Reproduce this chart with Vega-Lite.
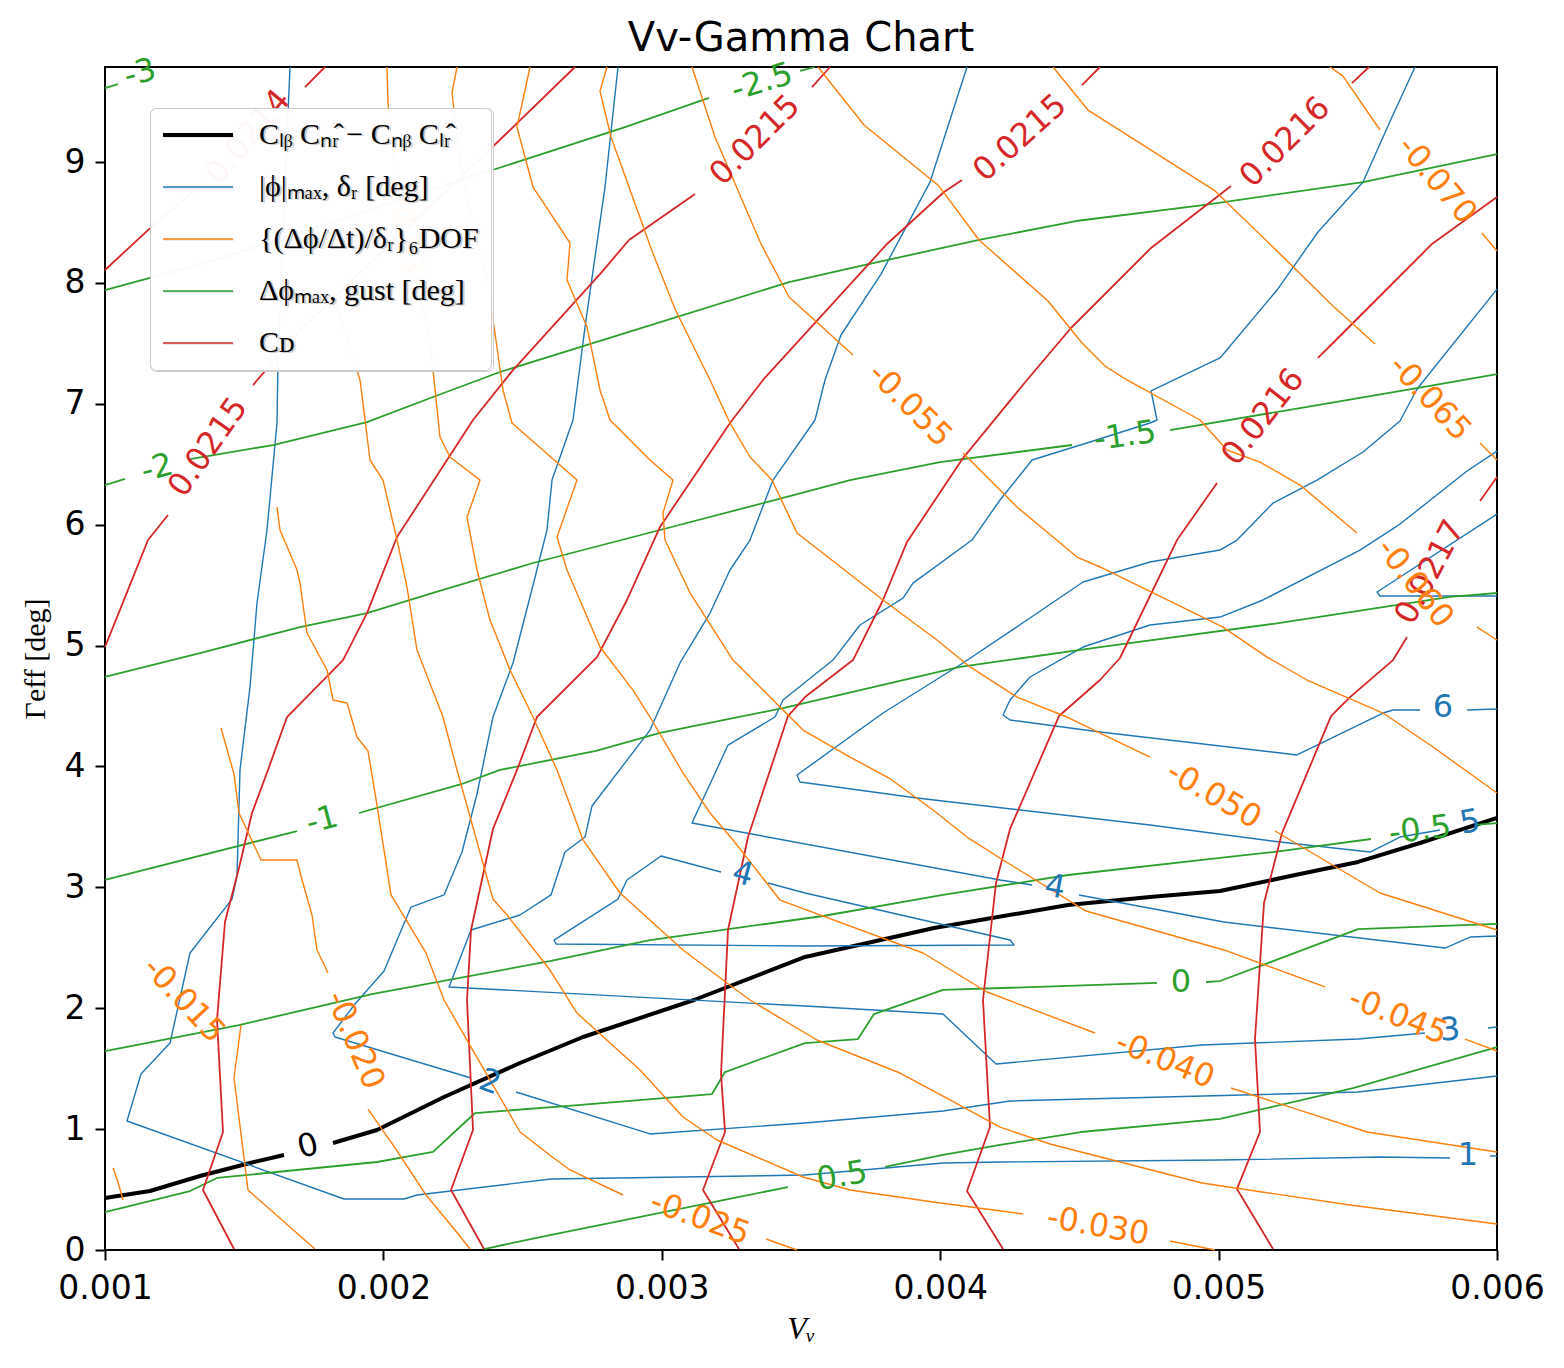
{
  "$schema": "https://vega.github.io/schema/vega-lite/v6.json",
  "width": 1392,
  "height": 1183,
  "autosize": {"type": "none"},
  "padding": {"left": 105, "top": 67, "right": 67, "bottom": 118},
  "background": "white",
  "title": {
    "text": "Vv-Gamma Chart",
    "font": "DejaVu Sans",
    "fontSize": 40,
    "fontWeight": "normal",
    "color": "black",
    "anchor": "middle",
    "offset": -6
  },
  "datasets": {
    "lines": [
      {"series":"det","seg":"k1","i":0,"Vv":0.0010000,"Gamma":0.430},
      {"series":"det","seg":"k1","i":1,"Vv":0.0011616,"Gamma":0.488},
      {"series":"det","seg":"k1","i":2,"Vv":0.0013412,"Gamma":0.612},
      {"series":"det","seg":"k1","i":3,"Vv":0.0015208,"Gamma":0.720},
      {"series":"det","seg":"k1","i":4,"Vv":0.0016430,"Gamma":0.786},
      {"series":"det","seg":"k2","i":0,"Vv":0.0018190,"Gamma":0.885},
      {"series":"det","seg":"k2","i":1,"Vv":0.0019770,"Gamma":0.993},
      {"series":"det","seg":"k2","i":2,"Vv":0.0022177,"Gamma":1.266},
      {"series":"det","seg":"k2","i":3,"Vv":0.0024907,"Gamma":1.547},
      {"series":"det","seg":"k2","i":4,"Vv":0.0027170,"Gamma":1.762},
      {"series":"det","seg":"k2","i":5,"Vv":0.0031157,"Gamma":2.068},
      {"series":"det","seg":"k2","i":6,"Vv":0.0035144,"Gamma":2.424},
      {"series":"det","seg":"k2","i":7,"Vv":0.0039778,"Gamma":2.664},
      {"series":"det","seg":"k2","i":8,"Vv":0.0044591,"Gamma":2.854},
      {"series":"det","seg":"k2","i":9,"Vv":0.0047536,"Gamma":2.920},
      {"series":"det","seg":"k2","i":10,"Vv":0.0050051,"Gamma":2.970},
      {"series":"det","seg":"k2","i":11,"Vv":0.0052924,"Gamma":3.110},
      {"series":"det","seg":"k2","i":12,"Vv":0.0055008,"Gamma":3.210},
      {"series":"det","seg":"k2","i":13,"Vv":0.0057235,"Gamma":3.367},
      {"series":"det","seg":"k2","i":14,"Vv":0.0060000,"Gamma":3.574},

      {"series":"phi","seg":"p1a","i":0,"Vv":0.0059749,"Gamma":0.778},
      {"series":"phi","seg":"p1a","i":1,"Vv":0.0060000,"Gamma":0.778},
      {"series":"phi","seg":"p1b","i":0,"Vv":0.0058313,"Gamma":0.761},
      {"series":"phi","seg":"p1b","i":1,"Vv":0.0055798,"Gamma":0.769},
      {"series":"phi","seg":"p1b","i":2,"Vv":0.0050051,"Gamma":0.744},
      {"series":"phi","seg":"p1b","i":3,"Vv":0.0042148,"Gamma":0.728},
      {"series":"phi","seg":"p1b","i":4,"Vv":0.0040101,"Gamma":0.720},
      {"series":"phi","seg":"p1b","i":5,"Vv":0.0035144,"Gamma":0.620},
      {"series":"phi","seg":"p1b","i":6,"Vv":0.0026020,"Gamma":0.587},
      {"series":"phi","seg":"p1b","i":7,"Vv":0.0021207,"Gamma":0.455},
      {"series":"phi","seg":"p1b","i":8,"Vv":0.0020740,"Gamma":0.422},
      {"series":"phi","seg":"p1b","i":9,"Vv":0.0018585,"Gamma":0.422},
      {"series":"phi","seg":"p1b","i":10,"Vv":0.0010790,"Gamma":1.067},
      {"series":"phi","seg":"p1b","i":11,"Vv":0.0011293,"Gamma":1.456},
      {"series":"phi","seg":"p1b","i":12,"Vv":0.0012335,"Gamma":1.712},
      {"series":"phi","seg":"p1b","i":13,"Vv":0.0013053,"Gamma":2.457},
      {"series":"phi","seg":"p1b","i":14,"Vv":0.0014562,"Gamma":2.903},
      {"series":"phi","seg":"p1b","i":15,"Vv":0.0014741,"Gamma":3.094},
      {"series":"phi","seg":"p1b","i":16,"Vv":0.0014849,"Gamma":3.971},
      {"series":"phi","seg":"p1b","i":17,"Vv":0.0015208,"Gamma":4.657},
      {"series":"phi","seg":"p1b","i":18,"Vv":0.0015460,"Gamma":5.352},
      {"series":"phi","seg":"p1b","i":19,"Vv":0.0015819,"Gamma":5.956},
      {"series":"phi","seg":"p1b","i":20,"Vv":0.0016178,"Gamma":6.841},
      {"series":"phi","seg":"p1b","i":21,"Vv":0.0016214,"Gamma":7.362},
      {"series":"phi","seg":"p1b","i":22,"Vv":0.0016466,"Gamma":8.826},
      {"series":"phi","seg":"p1b","i":23,"Vv":0.0016645,"Gamma":9.786},

      {"series":"phi","seg":"p2a","i":0,"Vv":0.0060000,"Gamma":1.439},
      {"series":"phi","seg":"p2a","i":1,"Vv":0.0055008,"Gamma":1.307},
      {"series":"phi","seg":"p2a","i":2,"Vv":0.0042508,"Gamma":1.233},
      {"series":"phi","seg":"p2a","i":3,"Vv":0.0040101,"Gamma":1.150},
      {"series":"phi","seg":"p2a","i":4,"Vv":0.0035144,"Gamma":1.051},
      {"series":"phi","seg":"p2a","i":5,"Vv":0.0029576,"Gamma":0.960},
      {"series":"phi","seg":"p2a","i":6,"Vv":0.0024763,"Gamma":1.307},
      {"series":"phi","seg":"p2b","i":0,"Vv":0.0023147,"Gamma":1.423},
      {"series":"phi","seg":"p2b","i":1,"Vv":0.0018262,"Gamma":1.762},
      {"series":"phi","seg":"p2b","i":2,"Vv":0.0018190,"Gamma":1.795},
      {"series":"phi","seg":"p2b","i":3,"Vv":0.0018980,"Gamma":2.035},
      {"series":"phi","seg":"p2b","i":4,"Vv":0.0020022,"Gamma":2.308},
      {"series":"phi","seg":"p2b","i":5,"Vv":0.0020992,"Gamma":2.837},
      {"series":"phi","seg":"p2b","i":6,"Vv":0.0022177,"Gamma":2.937},
      {"series":"phi","seg":"p2b","i":7,"Vv":0.0022824,"Gamma":3.292},
      {"series":"phi","seg":"p2b","i":8,"Vv":0.0023362,"Gamma":3.772},
      {"series":"phi","seg":"p2b","i":9,"Vv":0.0023937,"Gamma":4.409},
      {"series":"phi","seg":"p2b","i":10,"Vv":0.0024655,"Gamma":4.856},
      {"series":"phi","seg":"p2b","i":11,"Vv":0.0025266,"Gamma":5.402},
      {"series":"phi","seg":"p2b","i":12,"Vv":0.0025877,"Gamma":5.956},
      {"series":"phi","seg":"p2b","i":13,"Vv":0.0026056,"Gamma":6.369},
      {"series":"phi","seg":"p2b","i":14,"Vv":0.0026811,"Gamma":6.866},
      {"series":"phi","seg":"p2b","i":15,"Vv":0.0027242,"Gamma":7.635},
      {"series":"phi","seg":"p2b","i":16,"Vv":0.0027960,"Gamma":8.793},
      {"series":"phi","seg":"p2b","i":17,"Vv":0.0028427,"Gamma":9.786},

      {"series":"phi","seg":"p3a","i":0,"Vv":0.0059677,"Gamma":1.836},
      {"series":"phi","seg":"p3a","i":1,"Vv":0.0060000,"Gamma":1.845},
      {"series":"phi","seg":"p3b","i":0,"Vv":0.0057414,"Gamma":1.795},
      {"series":"phi","seg":"p3b","i":1,"Vv":0.0055008,"Gamma":1.745},
      {"series":"phi","seg":"p3b","i":2,"Vv":0.0049404,"Gamma":1.696},
      {"series":"phi","seg":"p3b","i":3,"Vv":0.0042005,"Gamma":1.539},
      {"series":"phi","seg":"p3b","i":4,"Vv":0.0040101,"Gamma":1.952},
      {"series":"phi","seg":"p3b","i":5,"Vv":0.0035144,"Gamma":2.018},
      {"series":"phi","seg":"p3b","i":6,"Vv":0.0022357,"Gamma":2.176},
      {"series":"phi","seg":"p3b","i":7,"Vv":0.0023147,"Gamma":2.647},
      {"series":"phi","seg":"p3b","i":8,"Vv":0.0024907,"Gamma":2.771},
      {"series":"phi","seg":"p3b","i":9,"Vv":0.0026020,"Gamma":2.937},
      {"series":"phi","seg":"p3b","i":10,"Vv":0.0026523,"Gamma":3.292},
      {"series":"phi","seg":"p3b","i":11,"Vv":0.0027242,"Gamma":3.416},
      {"series":"phi","seg":"p3b","i":12,"Vv":0.0027493,"Gamma":3.673},
      {"series":"phi","seg":"p3b","i":13,"Vv":0.0029576,"Gamma":4.301},
      {"series":"phi","seg":"p3b","i":14,"Vv":0.0030654,"Gamma":4.856},
      {"series":"phi","seg":"p3b","i":15,"Vv":0.0031732,"Gamma":5.269},
      {"series":"phi","seg":"p3b","i":16,"Vv":0.0032450,"Gamma":5.625},
      {"series":"phi","seg":"p3b","i":17,"Vv":0.0033168,"Gamma":5.873},
      {"series":"phi","seg":"p3b","i":18,"Vv":0.0033995,"Gamma":6.369},
      {"series":"phi","seg":"p3b","i":19,"Vv":0.0035503,"Gamma":6.866},
      {"series":"phi","seg":"p3b","i":20,"Vv":0.0035862,"Gamma":7.197},
      {"series":"phi","seg":"p3b","i":21,"Vv":0.0036437,"Gamma":7.569},
      {"series":"phi","seg":"p3b","i":22,"Vv":0.0037874,"Gamma":8.073},
      {"series":"phi","seg":"p3b","i":23,"Vv":0.0039634,"Gamma":8.834},
      {"series":"phi","seg":"p3b","i":24,"Vv":0.0040963,"Gamma":9.786},

      {"series":"phi","seg":"p4a","i":0,"Vv":0.0060000,"Gamma":2.597},
      {"series":"phi","seg":"p4a","i":1,"Vv":0.0059031,"Gamma":2.589},
      {"series":"phi","seg":"p4a","i":2,"Vv":0.0058133,"Gamma":2.498},
      {"series":"phi","seg":"p4a","i":3,"Vv":0.0050194,"Gamma":2.713},
      {"series":"phi","seg":"p4a","i":4,"Vv":0.0044986,"Gamma":2.937},
      {"series":"phi","seg":"p4b","i":0,"Vv":0.0043298,"Gamma":3.019},
      {"series":"phi","seg":"p4b","i":1,"Vv":0.0042148,"Gamma":3.061},
      {"series":"phi","seg":"p4b","i":2,"Vv":0.0031085,"Gamma":3.532},
      {"series":"phi","seg":"p4b","i":3,"Vv":0.0032378,"Gamma":4.177},
      {"series":"phi","seg":"p4b","i":4,"Vv":0.0034066,"Gamma":4.409},
      {"series":"phi","seg":"p4b","i":5,"Vv":0.0034354,"Gamma":4.550},
      {"series":"phi","seg":"p4b","i":6,"Vv":0.0036150,"Gamma":4.880},
      {"series":"phi","seg":"p4b","i":7,"Vv":0.0037120,"Gamma":5.170},
      {"series":"phi","seg":"p4b","i":8,"Vv":0.0038664,"Gamma":5.393},
      {"series":"phi","seg":"p4b","i":9,"Vv":0.0039023,"Gamma":5.517},
      {"series":"phi","seg":"p4b","i":10,"Vv":0.0041143,"Gamma":5.873},
      {"series":"phi","seg":"p4b","i":11,"Vv":0.0042148,"Gamma":6.204},
      {"series":"phi","seg":"p4b","i":12,"Vv":0.0043298,"Gamma":6.535},
      {"series":"phi","seg":"p4b","i":13,"Vv":0.0045381,"Gamma":6.684},
      {"series":"phi","seg":"p4b","i":14,"Vv":0.0047536,"Gamma":6.841},
      {"series":"phi","seg":"p4b","i":15,"Vv":0.0047788,"Gamma":6.866},
      {"series":"phi","seg":"p4b","i":16,"Vv":0.0047573,"Gamma":7.106},
      {"series":"phi","seg":"p4b","i":17,"Vv":0.0050051,"Gamma":7.379},
      {"series":"phi","seg":"p4b","i":18,"Vv":0.0052098,"Gamma":7.941},
      {"series":"phi","seg":"p4b","i":19,"Vv":0.0053571,"Gamma":8.421},
      {"series":"phi","seg":"p4b","i":20,"Vv":0.0055187,"Gamma":8.834},
      {"series":"phi","seg":"p4b","i":21,"Vv":0.0056229,"Gamma":9.372},
      {"series":"phi","seg":"p4b","i":22,"Vv":0.0057055,"Gamma":9.786},
      {"series":"phi","seg":"p4c","i":0,"Vv":0.0032127,"Gamma":3.127},
      {"series":"phi","seg":"p4c","i":1,"Vv":0.0029972,"Gamma":3.259},
      {"series":"phi","seg":"p4c","i":2,"Vv":0.0028750,"Gamma":3.061},
      {"series":"phi","seg":"p4c","i":3,"Vv":0.0028427,"Gamma":2.903},
      {"series":"phi","seg":"p4c","i":4,"Vv":0.0026128,"Gamma":2.564},
      {"series":"phi","seg":"p4c","i":5,"Vv":0.0026200,"Gamma":2.531},
      {"series":"phi","seg":"p4c","i":6,"Vv":0.0035144,"Gamma":2.515},
      {"series":"phi","seg":"p4c","i":7,"Vv":0.0042651,"Gamma":2.523},
      {"series":"phi","seg":"p4c","i":8,"Vv":0.0042508,"Gamma":2.564},
      {"series":"phi","seg":"p4c","i":9,"Vv":0.0035144,"Gamma":2.953},
      {"series":"phi","seg":"p4c","i":10,"Vv":0.0033815,"Gamma":3.036},

      {"series":"phi","seg":"p5","i":0,"Vv":0.0057953,"Gamma":3.474},
      {"series":"phi","seg":"p5","i":1,"Vv":0.0056516,"Gamma":3.416},
      {"series":"phi","seg":"p5","i":2,"Vv":0.0055439,"Gamma":3.292},
      {"series":"phi","seg":"p5","i":3,"Vv":0.0052206,"Gamma":3.375},
      {"series":"phi","seg":"p5","i":4,"Vv":0.0047536,"Gamma":3.516},
      {"series":"phi","seg":"p5","i":5,"Vv":0.0039167,"Gamma":3.739},
      {"series":"phi","seg":"p5","i":6,"Vv":0.0034964,"Gamma":3.871},
      {"series":"phi","seg":"p5","i":7,"Vv":0.0034857,"Gamma":3.929},
      {"series":"phi","seg":"p5","i":8,"Vv":0.0037946,"Gamma":4.442},
      {"series":"phi","seg":"p5","i":9,"Vv":0.0040819,"Gamma":4.856},
      {"series":"phi","seg":"p5","i":10,"Vv":0.0043226,"Gamma":5.228},
      {"series":"phi","seg":"p5","i":11,"Vv":0.0045130,"Gamma":5.526},
      {"series":"phi","seg":"p5","i":12,"Vv":0.0047536,"Gamma":5.691},
      {"series":"phi","seg":"p5","i":13,"Vv":0.0050051,"Gamma":5.790},
      {"series":"phi","seg":"p5","i":14,"Vv":0.0050661,"Gamma":5.873},
      {"series":"phi","seg":"p5","i":15,"Vv":0.0051955,"Gamma":6.179},
      {"series":"phi","seg":"p5","i":16,"Vv":0.0053535,"Gamma":6.369},
      {"series":"phi","seg":"p5","i":17,"Vv":0.0055187,"Gamma":6.601},
      {"series":"phi","seg":"p5","i":18,"Vv":0.0056516,"Gamma":6.858},
      {"series":"phi","seg":"p5","i":19,"Vv":0.0057127,"Gamma":7.122},
      {"series":"phi","seg":"p5","i":20,"Vv":0.0060000,"Gamma":7.949},

      {"series":"phi","seg":"p6a","i":0,"Vv":0.0058924,"Gamma":4.467},
      {"series":"phi","seg":"p6a","i":1,"Vv":0.0060000,"Gamma":4.475},
      {"series":"phi","seg":"p6b","i":0,"Vv":0.0057235,"Gamma":4.467},
      {"series":"phi","seg":"p6b","i":1,"Vv":0.0056265,"Gamma":4.467},
      {"series":"phi","seg":"p6b","i":2,"Vv":0.0055906,"Gamma":4.442},
      {"series":"phi","seg":"p6b","i":3,"Vv":0.0052816,"Gamma":4.095},
      {"series":"phi","seg":"p6b","i":4,"Vv":0.0045740,"Gamma":4.285},
      {"series":"phi","seg":"p6b","i":5,"Vv":0.0042508,"Gamma":4.384},
      {"series":"phi","seg":"p6b","i":6,"Vv":0.0042256,"Gamma":4.426},
      {"series":"phi","seg":"p6b","i":7,"Vv":0.0042508,"Gamma":4.550},
      {"series":"phi","seg":"p6b","i":8,"Vv":0.0043226,"Gamma":4.740},
      {"series":"phi","seg":"p6b","i":9,"Vv":0.0045130,"Gamma":4.988},
      {"series":"phi","seg":"p6b","i":10,"Vv":0.0047536,"Gamma":5.170},
      {"series":"phi","seg":"p6b","i":11,"Vv":0.0050051,"Gamma":5.236},
      {"series":"phi","seg":"p6b","i":12,"Vv":0.0051595,"Gamma":5.377},
      {"series":"phi","seg":"p6b","i":13,"Vv":0.0055079,"Gamma":5.790},
      {"series":"phi","seg":"p6b","i":14,"Vv":0.0056516,"Gamma":6.005},
      {"series":"phi","seg":"p6b","i":15,"Vv":0.0058924,"Gamma":6.444},
      {"series":"phi","seg":"p6b","i":16,"Vv":0.0060000,"Gamma":6.609},
      {"series":"phi","seg":"p7","i":0,"Vv":0.0060000,"Gamma":6.088},
      {"series":"phi","seg":"p7","i":1,"Vv":0.0055690,"Gamma":5.443},
      {"series":"phi","seg":"p7","i":2,"Vv":0.0055798,"Gamma":5.410},
      {"series":"phi","seg":"p7","i":3,"Vv":0.0060000,"Gamma":5.410},

      {"series":"gust","seg":"g1a","i":0,"Vv":0.0023614,"Gamma":0.008},
      {"series":"gust","seg":"g1a","i":1,"Vv":0.0025984,"Gamma":0.124},
      {"series":"gust","seg":"g1a","i":2,"Vv":0.0034533,"Gamma":0.521},
      {"series":"gust","seg":"g1b","i":0,"Vv":0.0038018,"Gamma":0.687},
      {"series":"gust","seg":"g1b","i":1,"Vv":0.0040101,"Gamma":0.786},
      {"series":"gust","seg":"g1b","i":2,"Vv":0.0042148,"Gamma":0.869},
      {"series":"gust","seg":"g1b","i":3,"Vv":0.0045058,"Gamma":0.976},
      {"series":"gust","seg":"g1b","i":4,"Vv":0.0050051,"Gamma":1.084},
      {"series":"gust","seg":"g1b","i":5,"Vv":0.0054828,"Gamma":1.340},
      {"series":"gust","seg":"g1b","i":6,"Vv":0.0060000,"Gamma":1.679},
      {"series":"gust","seg":"g2a","i":0,"Vv":0.0010000,"Gamma":0.314},
      {"series":"gust","seg":"g2a","i":1,"Vv":0.0013053,"Gamma":0.488},
      {"series":"gust","seg":"g2a","i":2,"Vv":0.0014023,"Gamma":0.596},
      {"series":"gust","seg":"g2a","i":3,"Vv":0.0019770,"Gamma":0.728},
      {"series":"gust","seg":"g2a","i":4,"Vv":0.0021782,"Gamma":0.811},
      {"series":"gust","seg":"g2a","i":5,"Vv":0.0023291,"Gamma":1.133},
      {"series":"gust","seg":"g2a","i":6,"Vv":0.0026990,"Gamma":1.199},
      {"series":"gust","seg":"g2a","i":7,"Vv":0.0031803,"Gamma":1.290},
      {"series":"gust","seg":"g2a","i":8,"Vv":0.0032270,"Gamma":1.472},
      {"series":"gust","seg":"g2a","i":9,"Vv":0.0035144,"Gamma":1.712},
      {"series":"gust","seg":"g2a","i":10,"Vv":0.0037048,"Gamma":1.745},
      {"series":"gust","seg":"g2a","i":11,"Vv":0.0037622,"Gamma":1.952},
      {"series":"gust","seg":"g2a","i":12,"Vv":0.0040101,"Gamma":2.151},
      {"series":"gust","seg":"g2a","i":13,"Vv":0.0047788,"Gamma":2.209},
      {"series":"gust","seg":"g2b","i":0,"Vv":0.0049548,"Gamma":2.217},
      {"series":"gust","seg":"g2b","i":1,"Vv":0.0050051,"Gamma":2.225},
      {"series":"gust","seg":"g2b","i":2,"Vv":0.0055008,"Gamma":2.655},
      {"series":"gust","seg":"g2b","i":3,"Vv":0.0060000,"Gamma":2.697},
      {"series":"gust","seg":"g3a","i":0,"Vv":0.0010000,"Gamma":1.646},
      {"series":"gust","seg":"g3a","i":1,"Vv":0.0014813,"Gamma":1.861},
      {"series":"gust","seg":"g3a","i":2,"Vv":0.0019627,"Gamma":2.118},
      {"series":"gust","seg":"g3a","i":3,"Vv":0.0026020,"Gamma":2.391},
      {"series":"gust","seg":"g3a","i":4,"Vv":0.0029576,"Gamma":2.564},
      {"series":"gust","seg":"g3a","i":5,"Vv":0.0035790,"Gamma":2.763},
      {"series":"gust","seg":"g3a","i":6,"Vv":0.0040101,"Gamma":2.937},
      {"series":"gust","seg":"g3a","i":7,"Vv":0.0044591,"Gamma":3.102},
      {"series":"gust","seg":"g3a","i":8,"Vv":0.0050051,"Gamma":3.243},
      {"series":"gust","seg":"g3a","i":9,"Vv":0.0051955,"Gamma":3.292},
      {"series":"gust","seg":"g3a","i":10,"Vv":0.0055474,"Gamma":3.400},
      {"series":"gust","seg":"g3b","i":0,"Vv":0.0059210,"Gamma":3.516},
      {"series":"gust","seg":"g3b","i":1,"Vv":0.0060000,"Gamma":3.532},
      {"series":"gust","seg":"g4a","i":0,"Vv":0.0010000,"Gamma":3.061},
      {"series":"gust","seg":"g4a","i":1,"Vv":0.0016897,"Gamma":3.466},
      {"series":"gust","seg":"g4b","i":0,"Vv":0.0019124,"Gamma":3.615},
      {"series":"gust","seg":"g4b","i":1,"Vv":0.0022824,"Gamma":3.855},
      {"series":"gust","seg":"g4b","i":2,"Vv":0.0024189,"Gamma":3.971},
      {"series":"gust","seg":"g4b","i":3,"Vv":0.0027637,"Gamma":4.128},
      {"series":"gust","seg":"g4b","i":4,"Vv":0.0029936,"Gamma":4.277},
      {"series":"gust","seg":"g4b","i":5,"Vv":0.0034354,"Gamma":4.483},
      {"series":"gust","seg":"g4b","i":6,"Vv":0.0040712,"Gamma":4.823},
      {"series":"gust","seg":"g4b","i":7,"Vv":0.0045740,"Gamma":4.988},
      {"series":"gust","seg":"g4b","i":8,"Vv":0.0052206,"Gamma":5.187},
      {"series":"gust","seg":"g4b","i":9,"Vv":0.0058313,"Gamma":5.402},
      {"series":"gust","seg":"g4b","i":10,"Vv":0.0060000,"Gamma":5.435},
      {"series":"gust","seg":"g5a","i":0,"Vv":0.0010000,"Gamma":4.740},
      {"series":"gust","seg":"g5a","i":1,"Vv":0.0013412,"Gamma":4.938},
      {"series":"gust","seg":"g5a","i":2,"Vv":0.0017004,"Gamma":5.153},
      {"series":"gust","seg":"g5a","i":3,"Vv":0.0019411,"Gamma":5.269},
      {"series":"gust","seg":"g5a","i":4,"Vv":0.0021782,"Gamma":5.435},
      {"series":"gust","seg":"g5a","i":5,"Vv":0.0025374,"Gamma":5.683},
      {"series":"gust","seg":"g5a","i":6,"Vv":0.0029936,"Gamma":5.956},
      {"series":"gust","seg":"g5a","i":7,"Vv":0.0033779,"Gamma":6.187},
      {"series":"gust","seg":"g5a","i":8,"Vv":0.0036760,"Gamma":6.369},
      {"series":"gust","seg":"g5a","i":9,"Vv":0.0039993,"Gamma":6.518},
      {"series":"gust","seg":"g5a","i":10,"Vv":0.0044735,"Gamma":6.659},
      {"series":"gust","seg":"g5b","i":0,"Vv":0.0048255,"Gamma":6.783},
      {"series":"gust","seg":"g5b","i":1,"Vv":0.0052924,"Gamma":6.965},
      {"series":"gust","seg":"g5b","i":2,"Vv":0.0057127,"Gamma":7.130},
      {"series":"gust","seg":"g5b","i":3,"Vv":0.0060000,"Gamma":7.246},
      {"series":"gust","seg":"g6a","i":0,"Vv":0.0010000,"Gamma":6.328},
      {"series":"gust","seg":"g6a","i":1,"Vv":0.0010718,"Gamma":6.378},
      {"series":"gust","seg":"g6b","i":0,"Vv":0.0013053,"Gamma":6.543},
      {"series":"gust","seg":"g6b","i":1,"Vv":0.0016035,"Gamma":6.659},
      {"series":"gust","seg":"g6b","i":2,"Vv":0.0019411,"Gamma":6.849},
      {"series":"gust","seg":"g6b","i":3,"Vv":0.0021782,"Gamma":7.056},
      {"series":"gust","seg":"g6b","i":4,"Vv":0.0024189,"Gamma":7.263},
      {"series":"gust","seg":"g6b","i":5,"Vv":0.0028678,"Gamma":7.585},
      {"series":"gust","seg":"g6b","i":6,"Vv":0.0034569,"Gamma":8.007},
      {"series":"gust","seg":"g6b","i":7,"Vv":0.0037263,"Gamma":8.148},
      {"series":"gust","seg":"g6b","i":8,"Vv":0.0041394,"Gamma":8.355},
      {"series":"gust","seg":"g6b","i":9,"Vv":0.0044878,"Gamma":8.512},
      {"series":"gust","seg":"g6b","i":10,"Vv":0.0049440,"Gamma":8.644},
      {"series":"gust","seg":"g6b","i":11,"Vv":0.0055187,"Gamma":8.834},
      {"series":"gust","seg":"g6b","i":12,"Vv":0.0060000,"Gamma":9.066},
      {"series":"gust","seg":"g7a","i":0,"Vv":0.0010000,"Gamma":7.941},
      {"series":"gust","seg":"g7a","i":1,"Vv":0.0013951,"Gamma":8.189},
      {"series":"gust","seg":"g7a","i":2,"Vv":0.0028678,"Gamma":9.289},
      {"series":"gust","seg":"g7a","i":3,"Vv":0.0031696,"Gamma":9.530},
      {"series":"gust","seg":"g7b","i":0,"Vv":0.0034964,"Gamma":9.753},
      {"series":"gust","seg":"g7b","i":1,"Vv":0.0035503,"Gamma":9.786},
      {"series":"gust","seg":"g8","i":0,"Vv":0.0010000,"Gamma":9.612},
      {"series":"gust","seg":"g8","i":1,"Vv":0.0010467,"Gamma":9.645},

      {"series":"cd","seg":"r1a","i":0,"Vv":0.0010000,"Gamma":8.107},
      {"series":"cd","seg":"r1a","i":1,"Vv":0.0011545,"Gamma":8.437},
      {"series":"cd","seg":"r1a","i":2,"Vv":0.0013089,"Gamma":8.744},
      {"series":"cd","seg":"r1a","i":3,"Vv":0.0013592,"Gamma":8.834},
      {"series":"cd","seg":"r1b","i":0,"Vv":0.0017184,"Gamma":9.620},
      {"series":"cd","seg":"r1b","i":1,"Vv":0.0017902,"Gamma":9.786},
      {"series":"cd","seg":"r2a","i":0,"Vv":0.0010000,"Gamma":4.988},
      {"series":"cd","seg":"r2a","i":1,"Vv":0.0010826,"Gamma":5.460},
      {"series":"cd","seg":"r2a","i":2,"Vv":0.0011545,"Gamma":5.873},
      {"series":"cd","seg":"r2a","i":3,"Vv":0.0012263,"Gamma":6.080},
      {"series":"cd","seg":"r2b","i":0,"Vv":0.0015316,"Gamma":7.155},
      {"series":"cd","seg":"r2b","i":1,"Vv":0.0017004,"Gamma":7.610},
      {"series":"cd","seg":"r2b","i":2,"Vv":0.0024440,"Gamma":9.240},
      {"series":"cd","seg":"r2b","i":3,"Vv":0.0026882,"Gamma":9.786},
      {"series":"cd","seg":"r3a","i":0,"Vv":0.0014634,"Gamma":0.008},
      {"series":"cd","seg":"r3a","i":1,"Vv":0.0013520,"Gamma":0.496},
      {"series":"cd","seg":"r3a","i":2,"Vv":0.0014239,"Gamma":0.976},
      {"series":"cd","seg":"r3a","i":3,"Vv":0.0014023,"Gamma":1.903},
      {"series":"cd","seg":"r3a","i":4,"Vv":0.0014310,"Gamma":2.713},
      {"series":"cd","seg":"r3a","i":5,"Vv":0.0014813,"Gamma":3.160},
      {"series":"cd","seg":"r3a","i":6,"Vv":0.0015280,"Gamma":3.615},
      {"series":"cd","seg":"r3a","i":7,"Vv":0.0015855,"Gamma":3.971},
      {"series":"cd","seg":"r3a","i":8,"Vv":0.0016537,"Gamma":4.409},
      {"series":"cd","seg":"r3a","i":9,"Vv":0.0018549,"Gamma":4.880},
      {"series":"cd","seg":"r3a","i":10,"Vv":0.0019411,"Gamma":5.269},
      {"series":"cd","seg":"r3a","i":11,"Vv":0.0020489,"Gamma":5.898},
      {"series":"cd","seg":"r3a","i":12,"Vv":0.0023219,"Gamma":6.866},
      {"series":"cd","seg":"r3a","i":13,"Vv":0.0024655,"Gamma":7.279},
      {"series":"cd","seg":"r3a","i":14,"Vv":0.0027780,"Gamma":8.073},
      {"series":"cd","seg":"r3a","i":15,"Vv":0.0028822,"Gamma":8.355},
      {"series":"cd","seg":"r3a","i":16,"Vv":0.0031193,"Gamma":8.735},
      {"series":"cd","seg":"r3b","i":0,"Vv":0.0035395,"Gamma":9.620},
      {"series":"cd","seg":"r3b","i":1,"Vv":0.0036042,"Gamma":9.786},
      {"series":"cd","seg":"r4a","i":0,"Vv":0.0023614,"Gamma":0.008},
      {"series":"cd","seg":"r4a","i":1,"Vv":0.0022428,"Gamma":0.496},
      {"series":"cd","seg":"r4a","i":2,"Vv":0.0023219,"Gamma":0.993},
      {"series":"cd","seg":"r4a","i":3,"Vv":0.0023003,"Gamma":2.068},
      {"series":"cd","seg":"r4a","i":4,"Vv":0.0023147,"Gamma":2.647},
      {"series":"cd","seg":"r4a","i":5,"Vv":0.0023937,"Gamma":3.483},
      {"series":"cd","seg":"r4a","i":6,"Vv":0.0024799,"Gamma":3.971},
      {"series":"cd","seg":"r4a","i":7,"Vv":0.0025517,"Gamma":4.409},
      {"series":"cd","seg":"r4a","i":8,"Vv":0.0027673,"Gamma":4.905},
      {"series":"cd","seg":"r4a","i":9,"Vv":0.0028750,"Gamma":5.377},
      {"series":"cd","seg":"r4a","i":10,"Vv":0.0029936,"Gamma":5.981},
      {"series":"cd","seg":"r4a","i":11,"Vv":0.0032450,"Gamma":6.841},
      {"series":"cd","seg":"r4a","i":12,"Vv":0.0033635,"Gamma":7.197},
      {"series":"cd","seg":"r4a","i":13,"Vv":0.0038089,"Gamma":8.322},
      {"series":"cd","seg":"r4a","i":14,"Vv":0.0040137,"Gamma":8.752},
      {"series":"cd","seg":"r4a","i":15,"Vv":0.0040783,"Gamma":8.851},
      {"series":"cd","seg":"r4b","i":0,"Vv":0.0045094,"Gamma":9.637},
      {"series":"cd","seg":"r4b","i":1,"Vv":0.0045740,"Gamma":9.786},
      {"series":"cd","seg":"r5a","i":0,"Vv":0.0032773,"Gamma":0.008},
      {"series":"cd","seg":"r5a","i":1,"Vv":0.0031480,"Gamma":0.496},
      {"series":"cd","seg":"r5a","i":2,"Vv":0.0032270,"Gamma":0.976},
      {"series":"cd","seg":"r5a","i":3,"Vv":0.0032127,"Gamma":1.456},
      {"series":"cd","seg":"r5a","i":4,"Vv":0.0032378,"Gamma":2.647},
      {"series":"cd","seg":"r5a","i":5,"Vv":0.0033097,"Gamma":3.416},
      {"series":"cd","seg":"r5a","i":6,"Vv":0.0034533,"Gamma":4.417},
      {"series":"cd","seg":"r5a","i":7,"Vv":0.0035144,"Gamma":4.574},
      {"series":"cd","seg":"r5a","i":8,"Vv":0.0036868,"Gamma":4.880},
      {"series":"cd","seg":"r5a","i":9,"Vv":0.0037946,"Gamma":5.377},
      {"series":"cd","seg":"r5a","i":10,"Vv":0.0038808,"Gamma":5.857},
      {"series":"cd","seg":"r5a","i":11,"Vv":0.0040819,"Gamma":6.551},
      {"series":"cd","seg":"r5a","i":12,"Vv":0.0043118,"Gamma":7.197},
      {"series":"cd","seg":"r5a","i":13,"Vv":0.0044698,"Gamma":7.627},
      {"series":"cd","seg":"r5a","i":14,"Vv":0.0047573,"Gamma":8.289},
      {"series":"cd","seg":"r5a","i":15,"Vv":0.0050445,"Gamma":8.801},
      {"series":"cd","seg":"r5b","i":0,"Vv":0.0054792,"Gamma":9.653},
      {"series":"cd","seg":"r5b","i":1,"Vv":0.0055402,"Gamma":9.786},
      {"series":"cd","seg":"r6a","i":0,"Vv":0.0042256,"Gamma":0.008},
      {"series":"cd","seg":"r6a","i":1,"Vv":0.0040963,"Gamma":0.488},
      {"series":"cd","seg":"r6a","i":2,"Vv":0.0041789,"Gamma":1.017},
      {"series":"cd","seg":"r6a","i":3,"Vv":0.0041537,"Gamma":2.068},
      {"series":"cd","seg":"r6a","i":4,"Vv":0.0042005,"Gamma":3.036},
      {"series":"cd","seg":"r6a","i":5,"Vv":0.0042508,"Gamma":3.483},
      {"series":"cd","seg":"r6a","i":6,"Vv":0.0044267,"Gamma":4.417},
      {"series":"cd","seg":"r6a","i":7,"Vv":0.0045740,"Gamma":4.715},
      {"series":"cd","seg":"r6a","i":8,"Vv":0.0046459,"Gamma":4.897},
      {"series":"cd","seg":"r6a","i":9,"Vv":0.0048506,"Gamma":5.873},
      {"series":"cd","seg":"r6a","i":10,"Vv":0.0049943,"Gamma":6.345},
      {"series":"cd","seg":"r6b","i":0,"Vv":0.0053571,"Gamma":7.379},
      {"series":"cd","seg":"r6b","i":1,"Vv":0.0054792,"Gamma":7.660},
      {"series":"cd","seg":"r6b","i":2,"Vv":0.0057665,"Gamma":8.322},
      {"series":"cd","seg":"r6b","i":3,"Vv":0.0060000,"Gamma":8.710},
      {"series":"cd","seg":"r7a","i":0,"Vv":0.0051955,"Gamma":0.008},
      {"series":"cd","seg":"r7a","i":1,"Vv":0.0050661,"Gamma":0.505},
      {"series":"cd","seg":"r7a","i":2,"Vv":0.0051487,"Gamma":0.976},
      {"series":"cd","seg":"r7a","i":3,"Vv":0.0051307,"Gamma":1.745},
      {"series":"cd","seg":"r7a","i":4,"Vv":0.0051631,"Gamma":2.870},
      {"series":"cd","seg":"r7a","i":5,"Vv":0.0052278,"Gamma":3.449},
      {"series":"cd","seg":"r7a","i":6,"Vv":0.0054038,"Gamma":4.417},
      {"series":"cd","seg":"r7a","i":7,"Vv":0.0054720,"Gamma":4.574},
      {"series":"cd","seg":"r7a","i":8,"Vv":0.0056265,"Gamma":4.880},
      {"series":"cd","seg":"r7a","i":9,"Vv":0.0056768,"Gamma":5.071},
      {"series":"cd","seg":"r7b","i":0,"Vv":0.0059390,"Gamma":6.196},
      {"series":"cd","seg":"r7b","i":1,"Vv":0.0060000,"Gamma":6.394},

      {"series":"rate","seg":"o10","i":0,"Vv":0.0010287,"Gamma":0.678},
      {"series":"rate","seg":"o10","i":1,"Vv":0.0010467,"Gamma":0.562},
      {"series":"rate","seg":"o10","i":2,"Vv":0.0010647,"Gamma":0.414},
      {"series":"rate","seg":"o15","i":0,"Vv":0.0014885,"Gamma":1.861},
      {"series":"rate","seg":"o15","i":1,"Vv":0.0014634,"Gamma":1.423},
      {"series":"rate","seg":"o15","i":2,"Vv":0.0015137,"Gamma":0.496},
      {"series":"rate","seg":"o15","i":3,"Vv":0.0017543,"Gamma":0.008},
      {"series":"rate","seg":"o20a","i":0,"Vv":0.0014167,"Gamma":4.318},
      {"series":"rate","seg":"o20a","i":1,"Vv":0.0014634,"Gamma":3.937},
      {"series":"rate","seg":"o20a","i":2,"Vv":0.0014813,"Gamma":3.615},
      {"series":"rate","seg":"o20a","i":3,"Vv":0.0015604,"Gamma":3.226},
      {"series":"rate","seg":"o20a","i":4,"Vv":0.0016897,"Gamma":3.226},
      {"series":"rate","seg":"o20a","i":5,"Vv":0.0017040,"Gamma":3.094},
      {"series":"rate","seg":"o20a","i":6,"Vv":0.0017435,"Gamma":2.771},
      {"series":"rate","seg":"o20a","i":7,"Vv":0.0017615,"Gamma":2.482},
      {"series":"rate","seg":"o20a","i":8,"Vv":0.0018010,"Gamma":2.291},
      {"series":"rate","seg":"o20b","i":0,"Vv":0.0019447,"Gamma":1.166},
      {"series":"rate","seg":"o20b","i":1,"Vv":0.0020417,"Gamma":0.844},
      {"series":"rate","seg":"o20b","i":2,"Vv":0.0021530,"Gamma":0.455},
      {"series":"rate","seg":"o20b","i":3,"Vv":0.0022572,"Gamma":0.165},
      {"series":"rate","seg":"o20b","i":4,"Vv":0.0023111,"Gamma":0.008},
      {"series":"rate","seg":"o25a","i":0,"Vv":0.0016178,"Gamma":6.146},
      {"series":"rate","seg":"o25a","i":1,"Vv":0.0016286,"Gamma":5.956},
      {"series":"rate","seg":"o25a","i":2,"Vv":0.0016897,"Gamma":5.625},
      {"series":"rate","seg":"o25a","i":3,"Vv":0.0017004,"Gamma":5.517},
      {"series":"rate","seg":"o25a","i":4,"Vv":0.0017256,"Gamma":5.104},
      {"series":"rate","seg":"o25a","i":5,"Vv":0.0017974,"Gamma":4.798},
      {"series":"rate","seg":"o25a","i":6,"Vv":0.0018190,"Gamma":4.550},
      {"series":"rate","seg":"o25a","i":7,"Vv":0.0018693,"Gamma":4.525},
      {"series":"rate","seg":"o25a","i":8,"Vv":0.0019052,"Gamma":4.244},
      {"series":"rate","seg":"o25a","i":9,"Vv":0.0019447,"Gamma":4.128},
      {"series":"rate","seg":"o25a","i":10,"Vv":0.0019770,"Gamma":3.681},
      {"series":"rate","seg":"o25a","i":11,"Vv":0.0020273,"Gamma":2.937},
      {"series":"rate","seg":"o25a","i":12,"Vv":0.0021530,"Gamma":2.457},
      {"series":"rate","seg":"o25a","i":13,"Vv":0.0022177,"Gamma":2.068},
      {"series":"rate","seg":"o25a","i":14,"Vv":0.0023147,"Gamma":1.679},
      {"series":"rate","seg":"o25a","i":15,"Vv":0.0024907,"Gamma":0.976},
      {"series":"rate","seg":"o25a","i":16,"Vv":0.0026020,"Gamma":0.778},
      {"series":"rate","seg":"o25a","i":17,"Vv":0.0026703,"Gamma":0.662},
      {"series":"rate","seg":"o25a","i":18,"Vv":0.0028607,"Gamma":0.455},
      {"series":"rate","seg":"o25b","i":0,"Vv":0.0033743,"Gamma":0.091},
      {"series":"rate","seg":"o25b","i":1,"Vv":0.0034857,"Gamma":0.000},
      {"series":"rate","seg":"o30a","i":0,"Vv":0.0018190,"Gamma":7.941},
      {"series":"rate","seg":"o30a","i":1,"Vv":0.0018549,"Gamma":7.635},
      {"series":"rate","seg":"o30a","i":2,"Vv":0.0019160,"Gamma":7.197},
      {"series":"rate","seg":"o30a","i":3,"Vv":0.0019267,"Gamma":7.006},
      {"series":"rate","seg":"o30a","i":4,"Vv":0.0019519,"Gamma":6.535},
      {"series":"rate","seg":"o30a","i":5,"Vv":0.0019986,"Gamma":6.369},
      {"series":"rate","seg":"o30a","i":6,"Vv":0.0020489,"Gamma":5.873},
      {"series":"rate","seg":"o30a","i":7,"Vv":0.0020848,"Gamma":5.484},
      {"series":"rate","seg":"o30a","i":8,"Vv":0.0021207,"Gamma":4.963},
      {"series":"rate","seg":"o30a","i":9,"Vv":0.0022141,"Gamma":4.409},
      {"series":"rate","seg":"o30a","i":10,"Vv":0.0022644,"Gamma":3.971},
      {"series":"rate","seg":"o30a","i":11,"Vv":0.0023937,"Gamma":2.903},
      {"series":"rate","seg":"o30a","i":12,"Vv":0.0024440,"Gamma":2.771},
      {"series":"rate","seg":"o30a","i":13,"Vv":0.0025984,"Gamma":2.316},
      {"series":"rate","seg":"o30a","i":14,"Vv":0.0026954,"Gamma":1.960},
      {"series":"rate","seg":"o30a","i":15,"Vv":0.0029217,"Gamma":1.489},
      {"series":"rate","seg":"o30a","i":16,"Vv":0.0030762,"Gamma":1.100},
      {"series":"rate","seg":"o30a","i":17,"Vv":0.0031983,"Gamma":0.910},
      {"series":"rate","seg":"o30a","i":18,"Vv":0.0035072,"Gamma":0.604},
      {"series":"rate","seg":"o30a","i":19,"Vv":0.0036760,"Gamma":0.496},
      {"series":"rate","seg":"o30a","i":20,"Vv":0.0039742,"Gamma":0.397},
      {"series":"rate","seg":"o30a","i":21,"Vv":0.0042975,"Gamma":0.298},
      {"series":"rate","seg":"o30b","i":0,"Vv":0.0048255,"Gamma":0.074},
      {"series":"rate","seg":"o30b","i":1,"Vv":0.0049871,"Gamma":0.000},
      {"series":"rate","seg":"o35a","i":0,"Vv":0.0020129,"Gamma":9.786},
      {"series":"rate","seg":"o35a","i":1,"Vv":0.0020165,"Gamma":9.488},
      {"series":"rate","seg":"o35a","i":2,"Vv":0.0020489,"Gamma":8.744},
      {"series":"rate","seg":"o35b","i":0,"Vv":0.0021243,"Gamma":7.941},
      {"series":"rate","seg":"o35b","i":1,"Vv":0.0021566,"Gamma":7.668},
      {"series":"rate","seg":"o35b","i":2,"Vv":0.0021782,"Gamma":7.279},
      {"series":"rate","seg":"o35b","i":3,"Vv":0.0022033,"Gamma":6.725},
      {"series":"rate","seg":"o35b","i":4,"Vv":0.0022392,"Gamma":6.560},
      {"series":"rate","seg":"o35b","i":5,"Vv":0.0023470,"Gamma":6.369},
      {"series":"rate","seg":"o35b","i":6,"Vv":0.0023003,"Gamma":6.063},
      {"series":"rate","seg":"o35b","i":7,"Vv":0.0023362,"Gamma":5.625},
      {"series":"rate","seg":"o35b","i":8,"Vv":0.0023829,"Gamma":5.211},
      {"series":"rate","seg":"o35b","i":9,"Vv":0.0024548,"Gamma":4.798},
      {"series":"rate","seg":"o35b","i":10,"Vv":0.0025374,"Gamma":4.409},
      {"series":"rate","seg":"o35b","i":11,"Vv":0.0026236,"Gamma":3.971},
      {"series":"rate","seg":"o35b","i":12,"Vv":0.0027170,"Gamma":3.392},
      {"series":"rate","seg":"o35b","i":13,"Vv":0.0028499,"Gamma":2.953},
      {"series":"rate","seg":"o35b","i":14,"Vv":0.0030762,"Gamma":2.482},
      {"series":"rate","seg":"o35b","i":15,"Vv":0.0032199,"Gamma":2.233},
      {"series":"rate","seg":"o35b","i":16,"Vv":0.0033168,"Gamma":2.068},
      {"series":"rate","seg":"o35b","i":17,"Vv":0.0035575,"Gamma":1.737},
      {"series":"rate","seg":"o35b","i":18,"Vv":0.0038556,"Gamma":1.464},
      {"series":"rate","seg":"o35b","i":19,"Vv":0.0040352,"Gamma":1.241},
      {"series":"rate","seg":"o35b","i":20,"Vv":0.0042148,"Gamma":1.017},
      {"series":"rate","seg":"o35b","i":21,"Vv":0.0043944,"Gamma":0.877},
      {"series":"rate","seg":"o35b","i":22,"Vv":0.0049404,"Gamma":0.554},
      {"series":"rate","seg":"o35b","i":23,"Vv":0.0054720,"Gamma":0.372},
      {"series":"rate","seg":"o35b","i":24,"Vv":0.0060000,"Gamma":0.215},
      {"series":"rate","seg":"o40a","i":0,"Vv":0.0022644,"Gamma":9.786},
      {"series":"rate","seg":"o40a","i":1,"Vv":0.0022464,"Gamma":9.571},
      {"series":"rate","seg":"o40a","i":2,"Vv":0.0022752,"Gamma":9.016},
      {"series":"rate","seg":"o40a","i":3,"Vv":0.0023219,"Gamma":8.462},
      {"series":"rate","seg":"o40a","i":4,"Vv":0.0023721,"Gamma":8.049},
      {"series":"rate","seg":"o40a","i":5,"Vv":0.0024297,"Gamma":7.114},
      {"series":"rate","seg":"o40a","i":6,"Vv":0.0024619,"Gamma":6.841},
      {"series":"rate","seg":"o40a","i":7,"Vv":0.0026954,"Gamma":6.369},
      {"series":"rate","seg":"o40a","i":8,"Vv":0.0026236,"Gamma":5.898},
      {"series":"rate","seg":"o40a","i":9,"Vv":0.0026595,"Gamma":5.625},
      {"series":"rate","seg":"o40a","i":10,"Vv":0.0027780,"Gamma":4.988},
      {"series":"rate","seg":"o40a","i":11,"Vv":0.0028966,"Gamma":4.632},
      {"series":"rate","seg":"o40a","i":12,"Vv":0.0029576,"Gamma":4.409},
      {"series":"rate","seg":"o40a","i":13,"Vv":0.0030762,"Gamma":3.946},
      {"series":"rate","seg":"o40a","i":14,"Vv":0.0031732,"Gamma":3.615},
      {"series":"rate","seg":"o40a","i":15,"Vv":0.0032558,"Gamma":3.392},
      {"series":"rate","seg":"o40a","i":16,"Vv":0.0034246,"Gamma":2.895},
      {"series":"rate","seg":"o40a","i":17,"Vv":0.0039383,"Gamma":2.457},
      {"series":"rate","seg":"o40a","i":18,"Vv":0.0041681,"Gamma":2.134},
      {"series":"rate","seg":"o40a","i":19,"Vv":0.0045561,"Gamma":1.795},
      {"series":"rate","seg":"o40b","i":0,"Vv":0.0050445,"Gamma":1.340},
      {"series":"rate","seg":"o40b","i":1,"Vv":0.0055331,"Gamma":0.976},
      {"series":"rate","seg":"o40b","i":2,"Vv":0.0060000,"Gamma":0.811},
      {"series":"rate","seg":"o45a","i":0,"Vv":0.0025266,"Gamma":9.786},
      {"series":"rate","seg":"o45a","i":1,"Vv":0.0024799,"Gamma":9.289},
      {"series":"rate","seg":"o45a","i":2,"Vv":0.0025374,"Gamma":8.793},
      {"series":"rate","seg":"o45a","i":3,"Vv":0.0026703,"Gamma":8.330},
      {"series":"rate","seg":"o45a","i":4,"Vv":0.0026595,"Gamma":8.024},
      {"series":"rate","seg":"o45a","i":5,"Vv":0.0027314,"Gamma":7.635},
      {"series":"rate","seg":"o45a","i":6,"Vv":0.0027780,"Gamma":7.114},
      {"series":"rate","seg":"o45a","i":7,"Vv":0.0028140,"Gamma":6.866},
      {"series":"rate","seg":"o45a","i":8,"Vv":0.0029576,"Gamma":6.535},
      {"series":"rate","seg":"o45a","i":9,"Vv":0.0030403,"Gamma":6.369},
      {"series":"rate","seg":"o45a","i":10,"Vv":0.0030043,"Gamma":6.096},
      {"series":"rate","seg":"o45a","i":11,"Vv":0.0030115,"Gamma":5.873},
      {"series":"rate","seg":"o45a","i":12,"Vv":0.0031013,"Gamma":5.435},
      {"series":"rate","seg":"o45a","i":13,"Vv":0.0032558,"Gamma":4.880},
      {"series":"rate","seg":"o45a","i":14,"Vv":0.0034246,"Gamma":4.492},
      {"series":"rate","seg":"o45a","i":15,"Vv":0.0035072,"Gamma":4.301},
      {"series":"rate","seg":"o45a","i":16,"Vv":0.0036760,"Gamma":4.078},
      {"series":"rate","seg":"o45a","i":17,"Vv":0.0038161,"Gamma":3.904},
      {"series":"rate","seg":"o45a","i":18,"Vv":0.0039742,"Gamma":3.640},
      {"series":"rate","seg":"o45a","i":19,"Vv":0.0040963,"Gamma":3.416},
      {"series":"rate","seg":"o45a","i":20,"Vv":0.0042256,"Gamma":3.226},
      {"series":"rate","seg":"o45a","i":21,"Vv":0.0045237,"Gamma":2.804},
      {"series":"rate","seg":"o45a","i":22,"Vv":0.0050194,"Gamma":2.482},
      {"series":"rate","seg":"o45a","i":23,"Vv":0.0053822,"Gamma":2.176},
      {"series":"rate","seg":"o45b","i":0,"Vv":0.0058851,"Gamma":1.745},
      {"series":"rate","seg":"o45b","i":1,"Vv":0.0060000,"Gamma":1.646},
      {"series":"rate","seg":"o50a","i":0,"Vv":0.0028032,"Gamma":9.786},
      {"series":"rate","seg":"o50a","i":1,"Vv":0.0027780,"Gamma":9.587},
      {"series":"rate","seg":"o50a","i":2,"Vv":0.0028176,"Gamma":9.207},
      {"series":"rate","seg":"o50a","i":3,"Vv":0.0029648,"Gamma":8.264},
      {"series":"rate","seg":"o50a","i":4,"Vv":0.0030474,"Gamma":7.784},
      {"series":"rate","seg":"o50a","i":5,"Vv":0.0031732,"Gamma":7.197},
      {"series":"rate","seg":"o50a","i":6,"Vv":0.0032450,"Gamma":6.841},
      {"series":"rate","seg":"o50a","i":7,"Vv":0.0033168,"Gamma":6.560},
      {"series":"rate","seg":"o50a","i":8,"Vv":0.0033959,"Gamma":6.369},
      {"series":"rate","seg":"o50a","i":9,"Vv":0.0034857,"Gamma":5.931},
      {"series":"rate","seg":"o50a","i":10,"Vv":0.0037946,"Gamma":5.377},
      {"series":"rate","seg":"o50a","i":11,"Vv":0.0039885,"Gamma":5.046},
      {"series":"rate","seg":"o50a","i":12,"Vv":0.0041071,"Gamma":4.823},
      {"series":"rate","seg":"o50a","i":13,"Vv":0.0042759,"Gamma":4.574},
      {"series":"rate","seg":"o50a","i":14,"Vv":0.0044555,"Gamma":4.409},
      {"series":"rate","seg":"o50a","i":15,"Vv":0.0047536,"Gamma":4.078},
      {"series":"rate","seg":"o50b","i":0,"Vv":0.0052026,"Gamma":3.466},
      {"series":"rate","seg":"o50b","i":1,"Vv":0.0055798,"Gamma":2.953},
      {"series":"rate","seg":"o50b","i":2,"Vv":0.0060000,"Gamma":2.647},
      {"series":"rate","seg":"o55a","i":0,"Vv":0.0031085,"Gamma":9.786},
      {"series":"rate","seg":"o55a","i":1,"Vv":0.0031911,"Gamma":9.207},
      {"series":"rate","seg":"o55a","i":2,"Vv":0.0033564,"Gamma":8.322},
      {"series":"rate","seg":"o55a","i":3,"Vv":0.0034569,"Gamma":7.883},
      {"series":"rate","seg":"o55a","i":4,"Vv":0.0036868,"Gamma":7.403},
      {"series":"rate","seg":"o55b","i":0,"Vv":0.0040819,"Gamma":6.593},
      {"series":"rate","seg":"o55b","i":1,"Vv":0.0042759,"Gamma":6.146},
      {"series":"rate","seg":"o55b","i":2,"Vv":0.0044914,"Gamma":5.732},
      {"series":"rate","seg":"o55b","i":3,"Vv":0.0045740,"Gamma":5.650},
      {"series":"rate","seg":"o55b","i":4,"Vv":0.0047644,"Gamma":5.435},
      {"series":"rate","seg":"o55b","i":5,"Vv":0.0050158,"Gamma":5.153},
      {"series":"rate","seg":"o55b","i":6,"Vv":0.0051739,"Gamma":4.905},
      {"series":"rate","seg":"o55b","i":7,"Vv":0.0053175,"Gamma":4.715},
      {"series":"rate","seg":"o55b","i":8,"Vv":0.0055906,"Gamma":4.442},
      {"series":"rate","seg":"o55b","i":9,"Vv":0.0057702,"Gamma":4.161},
      {"series":"rate","seg":"o55b","i":10,"Vv":0.0060000,"Gamma":3.780},
      {"series":"rate","seg":"o60a","i":0,"Vv":0.0035611,"Gamma":9.786},
      {"series":"rate","seg":"o60a","i":1,"Vv":0.0037263,"Gamma":9.306},
      {"series":"rate","seg":"o60a","i":2,"Vv":0.0039957,"Gamma":8.801},
      {"series":"rate","seg":"o60a","i":3,"Vv":0.0041394,"Gamma":8.355},
      {"series":"rate","seg":"o60a","i":4,"Vv":0.0043873,"Gamma":7.850},
      {"series":"rate","seg":"o60a","i":5,"Vv":0.0045094,"Gamma":7.503},
      {"series":"rate","seg":"o60a","i":6,"Vv":0.0045920,"Gamma":7.312},
      {"series":"rate","seg":"o60a","i":7,"Vv":0.0046710,"Gamma":7.197},
      {"series":"rate","seg":"o60a","i":8,"Vv":0.0049332,"Gamma":6.866},
      {"series":"rate","seg":"o60a","i":9,"Vv":0.0050302,"Gamma":6.618},
      {"series":"rate","seg":"o60a","i":10,"Vv":0.0051487,"Gamma":6.518},
      {"series":"rate","seg":"o60a","i":11,"Vv":0.0052924,"Gamma":6.328},
      {"series":"rate","seg":"o60a","i":12,"Vv":0.0054972,"Gamma":5.931},
      {"series":"rate","seg":"o60b","i":0,"Vv":0.0059282,"Gamma":5.153},
      {"series":"rate","seg":"o60b","i":1,"Vv":0.0060000,"Gamma":5.046},
      {"series":"rate","seg":"o65a","i":0,"Vv":0.0044052,"Gamma":9.786},
      {"series":"rate","seg":"o65a","i":1,"Vv":0.0045309,"Gamma":9.430},
      {"series":"rate","seg":"o65a","i":2,"Vv":0.0049835,"Gamma":8.768},
      {"series":"rate","seg":"o65a","i":3,"Vv":0.0052098,"Gamma":8.264},
      {"series":"rate","seg":"o65a","i":4,"Vv":0.0054110,"Gamma":7.809},
      {"series":"rate","seg":"o65a","i":5,"Vv":0.0055618,"Gamma":7.494},
      {"series":"rate","seg":"o65b","i":0,"Vv":0.0059390,"Gamma":6.676},
      {"series":"rate","seg":"o65b","i":1,"Vv":0.0060000,"Gamma":6.535},
      {"series":"rate","seg":"o70a","i":0,"Vv":0.0054002,"Gamma":9.786},
      {"series":"rate","seg":"o70a","i":1,"Vv":0.0054469,"Gamma":9.711},
      {"series":"rate","seg":"o70a","i":2,"Vv":0.0055798,"Gamma":9.265},
      {"series":"rate","seg":"o70b","i":0,"Vv":0.0059462,"Gamma":8.413},
      {"series":"rate","seg":"o70b","i":1,"Vv":0.0060000,"Gamma":8.264}
    ],
    "labels": [
      {"key":"k0","series":"det","label":"0","Vv":0.0017292,"Gamma":0.860},
      {"key":"b1","series":"phi","label":"1","Vv":0.0058960,"Gamma":0.786},
      {"key":"b2","series":"phi","label":"2","Vv":0.0023829,"Gamma":1.390},
      {"key":"b3","series":"phi","label":"3","Vv":0.0058313,"Gamma":1.820},
      {"key":"b4","series":"phi","label":"4","Vv":0.0032917,"Gamma":3.110},
      {"key":"b5","series":"phi","label":"4","Vv":0.0044124,"Gamma":3.003},
      {"key":"b6","series":"phi","label":"5","Vv":0.0059031,"Gamma":3.540},
      {"key":"b7","series":"phi","label":"6","Vv":0.0058060,"Gamma":4.492},
      {"key":"g1","series":"gust","label":"-3","Vv":0.0011257,"Gamma":9.736},
      {"key":"g2","series":"gust","label":"-2.5","Vv":0.0033600,"Gamma":9.662},
      {"key":"g3","series":"gust","label":"-2","Vv":0.0011868,"Gamma":6.469},
      {"key":"g4","series":"gust","label":"-1.5","Vv":0.0046638,"Gamma":6.733},
      {"key":"g5","series":"gust","label":"-1","Vv":0.0017795,"Gamma":3.557},
      {"key":"g6","series":"gust","label":"-0.5","Vv":0.0057235,"Gamma":3.474},
      {"key":"g7","series":"gust","label":"0","Vv":0.0048650,"Gamma":2.217},
      {"key":"g8","series":"gust","label":"0.5","Vv":0.0036473,"Gamma":0.612},
      {"key":"r1","series":"cd","label":"0.0214","Vv":0.0015137,"Gamma":9.207},
      {"key":"r2","series":"cd","label":"0.0215","Vv":0.0013700,"Gamma":6.642},
      {"key":"r3","series":"cd","label":"0.0215","Vv":0.0033348,"Gamma":9.182},
      {"key":"r4","series":"cd","label":"0.0215","Vv":0.0042867,"Gamma":9.199},
      {"key":"r5","series":"cd","label":"0.0216","Vv":0.0052386,"Gamma":9.165},
      {"key":"r6","series":"cd","label":"0.0216","Vv":0.0051595,"Gamma":6.891},
      {"key":"r7","series":"cd","label":"0.0217","Vv":0.0057594,"Gamma":5.608},
      {"key":"o1","series":"rate","label":"-0.015","Vv":0.0012838,"Gamma":2.068},
      {"key":"o2","series":"rate","label":"-0.020","Vv":0.0018980,"Gamma":1.737},
      {"key":"o3","series":"rate","label":"-0.025","Vv":0.0031372,"Gamma":0.265},
      {"key":"o4","series":"rate","label":"-0.030","Vv":0.0045669,"Gamma":0.199},
      {"key":"o5","series":"rate","label":"-0.035","Vv":0.0020884,"Gamma":8.313},
      {"key":"o6","series":"rate","label":"-0.040","Vv":0.0048075,"Gamma":1.572},
      {"key":"o7","series":"rate","label":"-0.045","Vv":0.0056445,"Gamma":1.936},
      {"key":"o8","series":"rate","label":"-0.050","Vv":0.0049835,"Gamma":3.764},
      {"key":"o9","series":"rate","label":"-0.055","Vv":0.0038916,"Gamma":6.990},
      {"key":"o10","series":"rate","label":"-0.060","Vv":0.0057055,"Gamma":5.517},
      {"key":"o11","series":"rate","label":"-0.065","Vv":0.0057594,"Gamma":7.048},
      {"key":"o12","series":"rate","label":"-0.070","Vv":0.0057846,"Gamma":8.851}
    ]
  },
  "layer": [
    {
      "data": {"name": "lines"},
      "mark": {"type": "line", "strokeJoin": "round", "strokeCap": "butt"},
      "encoding": {
        "x": {
          "field": "Vv",
          "type": "quantitative",
          "scale": {"domain": [0.001, 0.006], "nice": false, "zero": false},
          "axis": {
            "values": [0.001, 0.002, 0.003, 0.004, 0.005, 0.006],
            "format": ".3f",
            "labelFlush": false,
            "labelPadding": 12,
            "title": "Vᵥ",
            "titleFont": "Liberation Serif",
            "titleFontSize": 32,
            "titleFontStyle": "italic",
            "titleFontWeight": "normal",
            "titlePadding": 8
          }
        },
        "y": {
          "field": "Gamma",
          "type": "quantitative",
          "scale": {"domain": [0, 9.786], "nice": false, "zero": false},
          "axis": {
            "values": [0, 1, 2, 3, 4, 5, 6, 7, 8, 9],
            "format": "d",
            "labelPadding": 10,
            "title": "Γeff  [deg]",
            "titleFont": "Liberation Serif",
            "titleFontSize": 30,
            "titleFontWeight": "normal",
            "titlePadding": 14
          }
        },
        "color": {
          "field": "series",
          "type": "nominal",
          "scale": {
            "domain": ["det", "phi", "rate", "gust", "cd"],
            "range": ["#000000", "#1f77b4", "#ff7f0e", "#2ca02c", "#d62728"]
          },
          "legend": {
            "title": null,
            "orient": "none",
            "legendX": 45,
            "legendY": 41,
            "direction": "vertical",
            "fillColor": "rgba(255,255,255,0.8)",
            "strokeColor": "#cccccc",
            "cornerRadius": 6,
            "padding": 12,
            "symbolType": "M-2.5,0H2.5",
            "symbolSize": 784,
            "symbolOffset": 21,
            "labelOffset": 46,
            "labelFont": "Liberation Serif",
            "labelFontSize": 30,
            "labelColor": "black",
            "labelLimit": 500,
            "rowPadding": 22,
            "labelExpr": "datum.label == 'det' ? 'Cₗᵦ Cₙᵣ̂ − Cₙᵦ Cₗᵣ̂' : datum.label == 'phi' ? '|ϕ|ₘₐₓ, δᵣ  [deg]' : datum.label == 'rate' ? '{(Δϕ/Δt)/δᵣ}₆DOF' : datum.label == 'gust' ? 'Δϕₘₐₓ, gust  [deg]' : 'Cᴅ'",
            "encode": {
              "symbols": {
                "update": {
                  "strokeWidth": {"signal": "datum.value === 'det' ? 4 : 1.6"}
                }
              }
            }
          }
        },
        "strokeWidth": {
          "field": "series",
          "type": "nominal",
          "scale": {
            "type": "ordinal",
            "domain": ["det", "phi", "rate", "gust", "cd"],
            "range": [4, 1.4, 1.4, 1.8, 1.8]
          },
          "legend": {
            "title": null,
            "orient": "none",
            "legendX": 45,
            "legendY": 41,
            "direction": "vertical",
            "fillColor": "rgba(255,255,255,0.8)",
            "strokeColor": "#cccccc",
            "cornerRadius": 6,
            "padding": 12,
            "symbolType": "M-2.5,0H2.5",
            "symbolSize": 784,
            "symbolOffset": 21,
            "labelOffset": 46,
            "labelFont": "Liberation Serif",
            "labelFontSize": 30,
            "labelColor": "black",
            "labelLimit": 500,
            "rowPadding": 22,
            "labelExpr": "datum.label == 'det' ? 'Cₗᵦ Cₙᵣ̂ − Cₙᵦ Cₗᵣ̂' : datum.label == 'phi' ? '|ϕ|ₘₐₓ, δᵣ  [deg]' : datum.label == 'rate' ? '{(Δϕ/Δt)/δᵣ}₆DOF' : datum.label == 'gust' ? 'Δϕₘₐₓ, gust  [deg]' : 'Cᴅ'",
            "encode": {
              "symbols": {
                "update": {
                  "strokeWidth": {"signal": "datum.value === 'det' ? 4 : 1.6"}
                }
              }
            }
          }
        },
        "detail": {"field": "seg", "type": "nominal"},
        "order": {"field": "i", "type": "quantitative"}
      }
    },
    {
      "data": {"name": "labels"},
      "mark": {"type": "text", "font": "DejaVu Sans", "fontSize": 32, "align": "center", "baseline": "middle"},
      "encoding": {
        "x": {"field": "Vv", "type": "quantitative"},
        "y": {"field": "Gamma", "type": "quantitative"},
        "text": {"field": "label", "type": "nominal"},
        "color": {"field": "series", "type": "nominal", "legend": null},
        "angle": {
          "field": "key",
          "type": "nominal",
          "legend": null,
          "scale": {
            "type": "ordinal",
            "domain": ["k0","b1","b2","b3","b4","b5","b6","b7","g1","g2","g3","g4","g5","g6","g7","g8","r1","r2","r3","r4","r5","r6","r7","o1","o2","o3","o4","o5","o6","o7","o8","o9","o10","o11","o12"],
            "range": [-15,0,20,-5,15,10,-10,0,-15,-17,-15,-8,-15,-7,0,-10,-50,-55,-45,-42,-45,-52,-62,47,67,20,10,80,22,22,30,45,52,47,50]
          }
        }
      }
    }
  ],
  "resolve": {"legend": {"color": "independent", "angle": "independent"}},
  "config": {
    "view": {"stroke": "black", "strokeWidth": 2},
    "axis": {
      "grid": false,
      "domain": false,
      "ticks": true,
      "tickColor": "black",
      "tickSize": 10,
      "tickWidth": 2,
      "labelFont": "DejaVu Sans",
      "labelFontSize": 33,
      "labelColor": "black",
      "titleColor": "black"
    }
  }
}
